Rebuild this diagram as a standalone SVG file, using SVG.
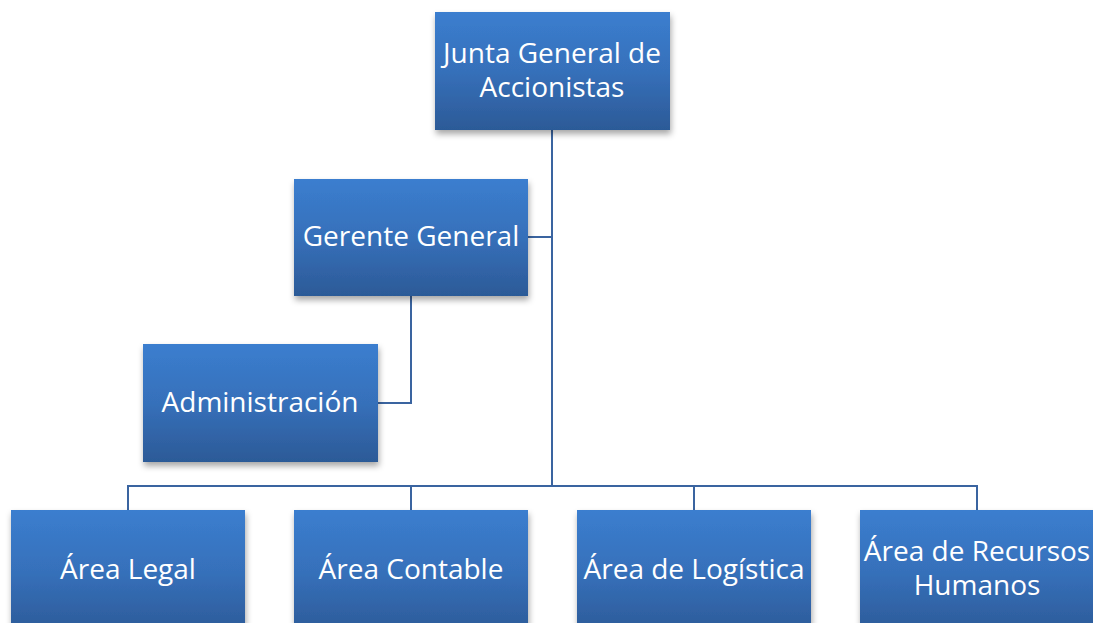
<svg xmlns="http://www.w3.org/2000/svg" width="1093" height="623" viewBox="0 0 1093 623">
<defs>
<linearGradient id="g" x1="0" y1="0" x2="0" y2="1">
<stop offset="0" stop-color="#3b7ecf"/>
<stop offset="0.5" stop-color="#3670ba"/>
<stop offset="1" stop-color="#2c5a97"/>
</linearGradient>
<filter id="sh" x="-10%" y="-10%" width="125%" height="130%">
<feDropShadow dx="1" dy="4" stdDeviation="3" flood-color="#000" flood-opacity="0.35"/>
</filter>
</defs>
<style>
.box{fill:url(#g);filter:url(#sh)}
.t{font-family:"Open Sans",Lato,sans-serif;font-size:28px;fill:#fff;text-anchor:middle}
.c{fill:none;stroke:#3a64a0;stroke-width:2}
</style>
<rect width="1093" height="623" fill="#fff"/>
<g id="connectors">
<path class="c" d="M552 130 V486"/>
<path class="c" d="M528 237 H552"/>
<path class="c" d="M378 403 H411 V296"/>
<path class="c" d="M128 510 V486 H977 V510"/>
<path class="c" d="M411 486 V510"/>
<path class="c" d="M694 486 V510"/>
</g>
<g id="junta"><rect class="box" x="435" y="12" width="235" height="118"/><text class="t" x="552" y="63">Junta General de</text><text class="t" x="552" y="97">Accionistas</text></g>
<g id="gerente"><rect class="box" x="294" y="179" width="234" height="117"/><text class="t" x="411" y="246">Gerente General</text></g>
<g id="administracion"><rect class="box" x="143" y="344" width="235" height="118"/><text class="t" x="260" y="412">Administración</text></g>
<g id="legal"><rect class="box" x="11" y="510" width="234" height="125"/><text class="t" x="128" y="579">Área Legal</text></g>
<g id="contable"><rect class="box" x="294" y="510" width="234" height="125"/><text class="t" x="411" y="579">Área Contable</text></g>
<g id="logistica"><rect class="box" x="577" y="510" width="234" height="125"/><text class="t" x="694" y="579">Área de Logística</text></g>
<g id="rrhh"><rect class="box" x="860" y="510" width="234" height="125"/><text class="t" x="977" y="561">Área de Recursos</text><text class="t" x="977" y="595">Humanos</text></g>
</svg>
